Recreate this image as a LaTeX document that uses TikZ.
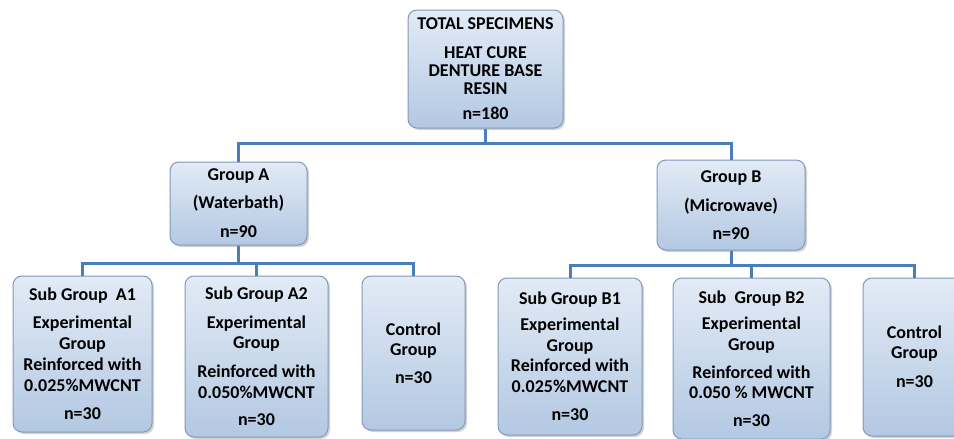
\documentclass[tikz,border=0pt]{standalone}
\usepackage{fontspec}
\setmainfont{Carlito}
\usetikzlibrary{shadows}
\definecolor{boxtop}{HTML}{E2EBF6}
\definecolor{boxbot}{HTML}{B3C8E2}
\definecolor{boxline}{HTML}{8299B8}
\definecolor{linkblue}{HTML}{4A7EBB}
\tikzset{
  grp/.style={draw=boxline, line width=1pt, rounded corners=9pt, top color=boxtop, bottom color=boxbot,
    drop shadow={shadow xshift=2pt, shadow yshift=-2pt, opacity=0.35}, inner sep=0pt, align=center,
    font=\fontsize{18}{21}\selectfont\bfseries},
  link/.style={linkblue, line width=3pt}
}
\begin{document}
\begin{tikzpicture}[x=1pt, y=-1pt]
	\useasboundingbox (0,0) rectangle (954,439);
	\node[grp, minimum width=155pt, minimum height=118pt] (total) at (485.5,69) {TOTAL SPECIMENS\\[8pt] HEAT CURE\\[-3pt] DENTURE BASE\\[-3pt] RESIN\\[4pt] n=180};
	\node[grp, minimum width=137pt, minimum height=83pt] (grpA) at (238.5,203.5) {Group A\\[7pt] (Waterbath)\\[8pt] n=90};
	\node[grp, minimum width=148pt, minimum height=90pt] (grpB) at (731,205) {Group B\\[8pt] (Microwave)\\[7pt] n=90};
	\node[grp, minimum width=139pt, minimum height=156pt] (subA1) at (82.5,354) {Sub Group\ \ A1\\[7pt] Experimental\\ Group\\ Reinforced with\\ 0.025\%MWCNT\\[7pt] n=30};
	\node[grp, minimum width=143pt, minimum height=161pt] (subA2) at (256.5,356.5) {Sub Group A2\\[8pt] Experimental\\[-1pt] Group\\[8pt] Reinforced with\\ 0.050\%MWCNT\\[6pt] n=30};
	\node[grp, minimum width=103pt, minimum height=154pt] (ctrlA) at (413.5,353) {Control\\[-1pt] Group\\[7pt] n=30};
	\node[grp, minimum width=144pt, minimum height=157pt] (subB1) at (570,356.5) {Sub Group B1\\[5pt] Experimental\\ Group\\[-1pt] Reinforced with\\ 0.025\%MWCNT\\[7pt] n=30};
	\node[grp, minimum width=157pt, minimum height=161pt] (subB2) at (751.5,358.5) {Sub\ \ Group B2\\[5pt] Experimental\\ Group\\[7pt] Reinforced with\\[-1pt] 0.050 \% MWCNT\\[7pt] n=30};
	\node[grp, minimum width=103pt, minimum height=158pt] (ctrlB) at (914.5,357) {Control\\[-1pt] Group\\[8pt] n=30};
	% connectors
	\draw[link] (total.south) -- ++(0,15) -| (grpA.north);
	\draw[link] (total.south) -- ++(0,15) -| (grpB.north);
	\draw[link] (grpA.south) -- ++(0,18) -| (subA1.north);
	\draw[link] (grpA.south) -- ++(0,18) -| (subA2.north);
	\draw[link] (grpA.south) -- ++(0,18) -| (ctrlA.north);
	\draw[link] (grpB.south) -- ++(0,15) -| (subB1.north);
	\draw[link] (grpB.south) -- ++(0,15) -| (subB2.north);
	\draw[link] (grpB.south) -- ++(0,15) -| (ctrlB.north);
\end{tikzpicture}
\end{document}
